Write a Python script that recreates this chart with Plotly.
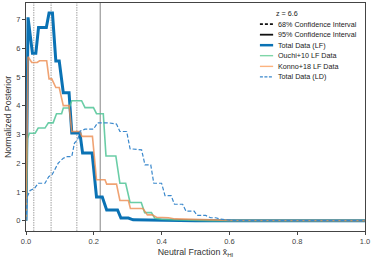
import plotly.graph_objects as go

# ---- data ----
total_lf_x = [0, 0.004, 0.006, 0.019, 0.029, 0.037, 0.06, 0.068, 0.078, 0.088, 0.098, 0.11, 0.127, 0.135, 0.159, 0.167, 0.195, 0.208, 0.225, 0.238, 0.27, 0.28, 0.302, 0.316, 0.4, 0.5, 1.0]
total_lf_y = [0, 6.8, 7.07, 5.82, 5.82, 6.72, 6.72, 7.22, 7.22, 5.55, 5.55, 4.45, 4.45, 3.05, 3.05, 2.35, 2.35, 0.82, 0.82, 0.37, 0.37, 0.09, 0.09, 0.03, 0.01, 0.0, 0.0]

ouchi_x = [0, 0.004, 0.01, 0.027, 0.036, 0.056, 0.066, 0.08, 0.09, 0.105, 0.11, 0.127, 0.135, 0.164, 0.174, 0.199, 0.208, 0.228, 0.236, 0.265, 0.277, 0.294, 0.307, 0.34, 0.35, 0.37, 0.38, 0.4, 0.45, 0.55, 1.0]
ouchi_y = [0, 2.85, 3.04, 3.04, 3.22, 3.22, 3.4, 3.4, 3.72, 3.72, 3.92, 3.92, 4.17, 4.17, 3.93, 3.93, 3.72, 3.72, 2.25, 2.25, 1.3, 1.3, 0.63, 0.63, 0.28, 0.28, 0.08, 0.05, 0.02, 0.0, 0.0]

konno_x = [0, 0.006, 0.017, 0.033, 0.04, 0.061, 0.068, 0.076, 0.088, 0.098, 0.11, 0.127, 0.135, 0.159, 0.165, 0.196, 0.208, 0.233, 0.238, 0.267, 0.277, 0.302, 0.308, 0.345, 0.358, 0.372, 0.385, 0.42, 0.44, 0.5, 0.6, 1.0]
konno_y = [0, 5.7, 5.5, 5.5, 5.56, 5.56, 4.93, 4.93, 4.63, 4.63, 4.0, 4.0, 3.1, 3.1, 2.93, 2.93, 1.42, 1.42, 1.27, 1.27, 0.7, 0.7, 0.42, 0.42, 0.2, 0.2, 0.12, 0.1, 0.06, 0.04, 0.01, 0.0]

total_ld_x = [0, 0.004, 0.012, 0.025, 0.036, 0.056, 0.067, 0.077, 0.087, 0.095, 0.11, 0.122, 0.135, 0.143, 0.152, 0.16, 0.174, 0.199, 0.211, 0.245, 0.267, 0.277, 0.297, 0.307, 0.341, 0.351, 0.368, 0.377, 0.4, 0.41, 0.428, 0.438, 0.462, 0.472, 0.496, 0.505, 0.53, 0.545, 0.56, 0.575, 0.6, 0.62, 1.0]
total_ld_y = [0, 0.84, 1.05, 1.12, 1.3, 1.3, 1.53, 1.6, 1.82, 2.0, 2.17, 2.23, 2.23, 2.7, 2.81, 3.12, 3.18, 3.18, 3.4, 3.4, 3.36, 3.1, 3.1, 2.5, 2.46, 1.94, 1.94, 1.3, 1.3, 0.87, 0.87, 0.57, 0.57, 0.33, 0.33, 0.18, 0.18, 0.1, 0.1, 0.05, 0.02, 0.0, 0.0]

ci68 = [0.023, 0.074, 0.150]
ci95 = [0.219]

x_ticks = [0.0, 0.2, 0.4, 0.6, 0.8, 1.0]
x_ticklabels = ["0.0", "0.2", "0.4", "0.6", "0.8", "1.0"]
y_ticks = [0, 1, 2, 3, 4, 5, 6, 7]

legend_labels = ["z = 6.6", "68% Confidence Interval", "95% Confidence Interval",
                 "Total Data (LF)", "Ouchi+10 LF Data", "Konno+18 LF Data", "Total Data (LD)"]

# ---- styles ----
C_BLUE = "#0a72b4"
C_GREEN = "rgba(80,196,150,0.85)"
C_ORANGE = "rgba(236,140,80,0.8)"
C_LD = "#3a88cc"
FONT = "Liberation Sans, Arial, sans-serif"

fig = go.Figure()
fig.add_trace(go.Scatter(x=total_lf_x, y=total_lf_y, mode="lines",
                         line=dict(color=C_BLUE, width=3), showlegend=False))
fig.add_trace(go.Scatter(x=ouchi_x, y=ouchi_y, mode="lines",
                         line=dict(color=C_GREEN, width=1.6), showlegend=False))
fig.add_trace(go.Scatter(x=konno_x, y=konno_y, mode="lines",
                         line=dict(color=C_ORANGE, width=1.6), showlegend=False))
fig.add_trace(go.Scatter(x=total_ld_x, y=total_ld_y, mode="lines",
                         line=dict(color=C_LD, width=1.2, dash="4px,2px"), showlegend=False))

shapes = []
for v in ci68:
    shapes.append(dict(type="line", xref="x", yref="paper", x0=v, x1=v, y0=0, y1=1,
                       line=dict(color="#a0a0a0", width=1, dash="1.5px,1px"), layer="below"))
for v in ci95:
    shapes.append(dict(type="line", xref="x", yref="paper", x0=v, x1=v, y0=0, y1=1,
                       line=dict(color="#9a9a9a", width=1.2), layer="below"))

# ---- manual compact legend ----
row_y = [0.953, 0.907, 0.861, 0.815, 0.769, 0.722, 0.676]
sym = [None,
       dict(color="#111", width=1.8, dash="3px,2px"),
       dict(color="#111", width=1.8),
       dict(color=C_BLUE, width=2.5),
       dict(color="#7fd6a8", width=1.4),
       dict(color="#fcb37f", width=1.4),
       dict(color=C_LD, width=1.2, dash="3px,1.5px")]
annotations = []
for i, (lab, yy) in enumerate(zip(legend_labels, row_y)):
    xt = 0.731 if i == 0 else 0.737
    annotations.append(dict(text=lab, x=xt, y=yy, xref="paper", yref="paper",
                            xanchor="left", yanchor="middle", showarrow=False,
                            font=dict(size=7.2, color="#222", family=FONT)))
    if sym[i] is not None:
        shapes.append(dict(type="line", xref="paper", yref="paper",
                           x0=0.690, x1=0.729, y0=yy, y1=yy, line=sym[i]))

fig.update_layout(
    width=374, height=260,
    margin=dict(l=26, r=9, t=3, b=29, autoexpand=False),
    paper_bgcolor="white", plot_bgcolor="white",
    font=dict(family=FONT, size=7, color="#333"),
    shapes=shapes, annotations=annotations, showlegend=False,
    xaxis=dict(range=[0, 1], tickvals=x_ticks, ticktext=x_ticklabels,
               showline=True, mirror=True, linecolor="#444", linewidth=1,
               ticks="outside", ticklen=3, tickcolor="#444", tickwidth=1,
               showgrid=False, zeroline=False, automargin=False,
               tickfont=dict(size=7.5, color="#444"),
               title=dict(text="Neutral Fraction x\u0304<sub>HI</sub>",
                          font=dict(size=8.8, color="#333"), standoff=3)),
    yaxis=dict(range=[-0.36, 7.57], tickvals=y_ticks,
               showline=True, mirror=True, linecolor="#444", linewidth=1,
               ticks="outside", ticklen=3, tickcolor="#444", tickwidth=1,
               showgrid=False, zeroline=False, automargin=False,
               tickfont=dict(size=7.5, color="#444"),
               title=dict(text="Normalized Posterior",
                          font=dict(size=8.8, color="#333"), standoff=3)),
)

fig.write_html("out.html", config={"displayModeBar": False},
               post_script="document.body.style.margin='0';")
